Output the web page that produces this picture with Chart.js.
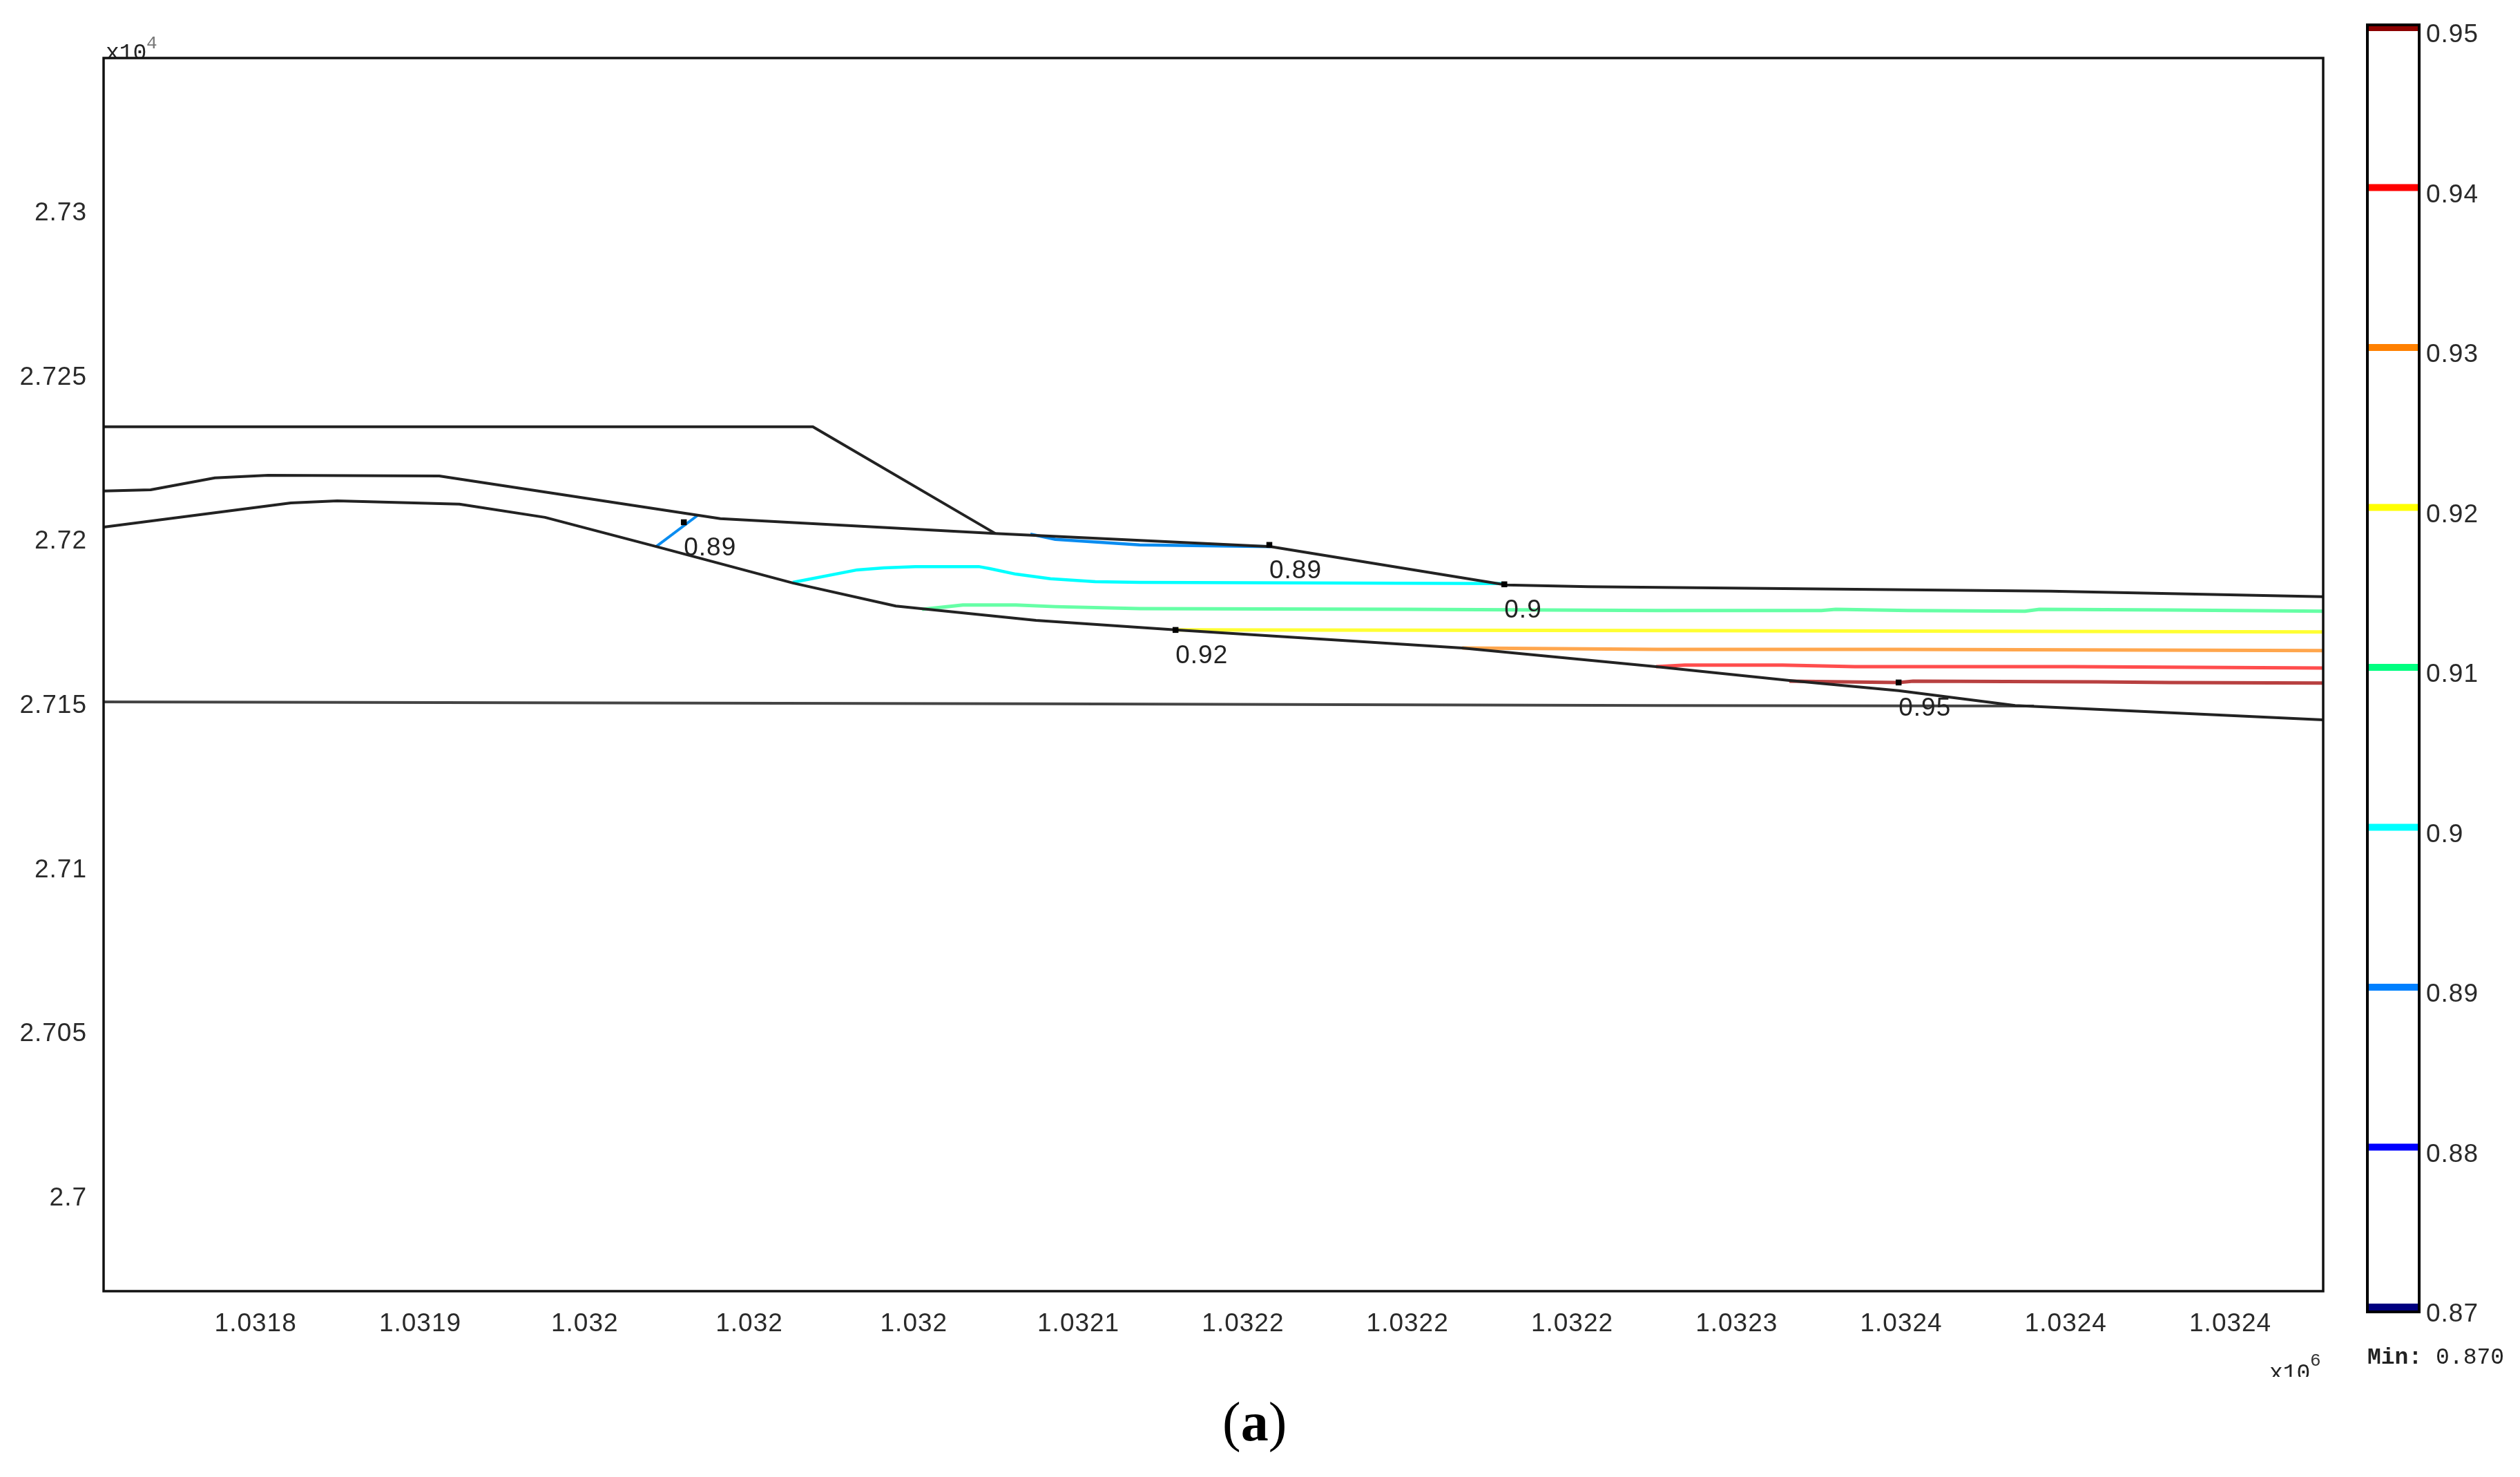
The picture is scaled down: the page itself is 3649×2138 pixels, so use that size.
<!DOCTYPE html>
<html><head><meta charset="utf-8">
<style>
html,body{margin:0;padding:0;background:#fff;width:3649px;height:2138px;overflow:hidden}
canvas{position:absolute;top:0}
.t{position:absolute;white-space:pre;color:#222;font-family:"Liberation Mono",monospace;line-height:1}
.clip{position:absolute;overflow:hidden}
</style>
<script src="https://cdn.jsdelivr.net/npm/chart.js@4/dist/chart.umd.min.js"></script>
</head><body>
<canvas id="main" width="3400" height="2138" style="left:0"></canvas>
<canvas id="bar" width="249" height="2138" style="left:3400px"></canvas>
<div class="clip" style="left:152px;top:40px;width:100px;height:43px"><div class="t" style="left:1px;top:21px;font-size:33px">x10</div><div class="t" style="left:60px;top:10px;font-size:26px;color:#777">4</div></div>
<div class="clip" style="left:3280px;top:1950px;width:90px;height:43px"><div class="t" style="left:6px;top:22px;font-size:33px">x10</div><div class="t" style="left:65px;top:7px;font-size:26px;color:#333">6</div></div>
<div class="t" style="left:3428px;top:1949px;font-size:33px"><b style="font-weight:600">Min:</b> 0.870</div>
<div class="t" style="left:1770px;top:2018px;font-size:80px;color:#000;font-family:'Liberation Serif',serif">(<b>a</b>)</div>
<script>
const xTickValues=[1031850,1031900,1031950,1032000,1032050,1032100,1032150,1032200,1032250,1032300,1032350,1032400,1032450];
const xTickLabels=["1.0318","1.0319","1.032","1.032","1.032","1.0321","1.0322","1.0322","1.0322","1.0323","1.0324","1.0324","1.0324"];
const yTickValues=[27000,27050,27100,27150,27200,27250,27300];
const yTickLabels=["2.7","2.705","2.71","2.715","2.72","2.725","2.73"];

const embankX=[1031803.8,1032019.3,1032074.7];
const embankY=[27234.6,27234.6,27202.1];
const surfaceX=[1031803.8,1031818.1,1031837.6,1031853.8,1031905.8,1031991.2,1032074.7,1032158.4,1032230.0,1032255.0,1032395.5,1032478.2];
const surfaceY=[27215.0,27215.4,27219.0,27219.8,27219.6,27206.6,27202.1,27198.1,27186.4,27185.9,27184.5,27182.8];
const lowerX=[1031803.8,1031860.7,1031874.8,1031911.9,1031937.9,1031971.7,1032013.2,1032044.5,1032087.1,1032129.5,1032216.6,1032275.5,1032316.0,1032349.2,1032384.6,1032478.2];
const lowerY=[27204.0,27211.4,27212.0,27211.0,27207.0,27198.1,27187.0,27180.0,27175.6,27172.7,27167.2,27161.5,27157.3,27154.2,27149.7,27145.3];
const bedX=[1031803.8,1032087.1,1032275.9,1032390.3];
const bedY=[27150.8,27150.2,27149.7,27149.5];

const c089aX=[1031971.7,1031984.3];
const c089aY=[27198.1,27207.6];
const c089bX=[1032085.4,1032093.0,1032118.6,1032158.4];
const c089bY=[27201.9,27200.3,27198.6,27198.1];
const c090X=[1032013.2,1032032.8,1032040.9,1032050.4,1032069.7,1032073.0,1032081.0,1032091.5,1032105.1,1032118.6,1032229.4];
const c090Y=[27187.2,27191.0,27191.6,27192.0,27192.0,27191.4,27189.7,27188.3,27187.4,27187.2,27186.8];
const c091X=[1032052.5,1032064.9,1032081.0,1032093.0,1032118.6,1032200.0,1032275.9,1032325.7,1032330.1,1032352.1,1032387.6,1032392.0,1032431.6,1032478.2];
const c091Y=[27179.0,27180.3,27180.3,27179.8,27179.2,27179.0,27178.6,27178.6,27179.0,27178.6,27178.4,27179.0,27178.8,27178.4];
const c092X=[1032129.5,1032275.9,1032478.2];
const c092Y=[27172.7,27172.5,27172.1];
const c093X=[1032216.6,1032275.9,1032349.4,1032478.2];
const c093Y=[27167.2,27166.8,27166.8,27166.4];
const c094X=[1032275.5,1032284.3,1032313.9,1032335.9,1032402.2,1032478.2];
const c094Y=[27161.5,27162.0,27162.0,27161.5,27161.5,27161.1];
const c095X=[1032316.0,1032349.2,1032353.6,1032409.6,1032431.6,1032478.2];
const c095Y=[27157.1,27156.7,27157.1,27156.9,27156.7,27156.5];

const markerX=[1031980.1,1032158.0,1032229.4,1032129.5,1032349.2];
const markerY=[27205.5,27198.6,27186.6,27172.7,27156.7];
const markerLabels=["0.89","0.89","0.9","0.92","0.95"];

const barLevels=[0.95,0.94,0.93,0.92,0.91,0.9,0.89,0.88,0.87];
const barLabels=["0.95","0.94","0.93","0.92","0.91","0.9","0.89","0.88","0.87"];
const barColors=["#8b0000","#ff0000","#ff8000","#ffff00","#00ff80","#00ffff","#0080ff","#0000ff","#000080"];

const zip=(a,b)=>a.map((v,i)=>({x:v,y:b[i]}));
const tickFont={family:"'Liberation Sans',sans-serif",size:37};
const line=(a,b,color,w,order)=>({data:zip(a,b),borderColor:color,borderWidth:w,showLine:true,pointRadius:0,tension:0,fill:false,order,borderJoinStyle:'round'});

const datasets=[
 {data:zip(markerX,markerY),pointStyle:'rect',pointRadius:6,pointBackgroundColor:'#000',pointBorderColor:'#000',pointBorderWidth:0,showLine:false,order:0},
 line(embankX,embankY,'#222',4,1),
 line(surfaceX,surfaceY,'#222',4,1),
 line(lowerX,lowerY,'#222',4,1),
 line(bedX,bedY,'#444',4,1),
 line(c089aX,c089aY,'#0a8cf0',4,2),
 line(c089bX,c089bY,'#0a8cf0',4.5,2),
 line(c090X,c090Y,'#00ffff',4.5,2),
 line(c091X,c091Y,'#66ffa6',5,2),
 line(c092X,c092Y,'#ffff33',5,2),
 line(c093X,c093Y,'#ffa64d',5,2),
 line(c094X,c094Y,'#ff4d4d',5,2),
 line(c095X,c095Y,'#b84040',5,2)
];

const spacing={id:'spacing',beforeDraw(c){c.ctx.letterSpacing='1px';}};
const framePlugin={id:'frame',afterDraw(c){
  const g=c.ctx,a=c.chartArea;
  g.save();g.strokeStyle='#111';g.lineWidth=3.5;
  g.strokeRect(a.left,a.top,a.right-a.left,a.bottom-a.top);
  g.restore();
}};
const labelPlugin={id:'inlineLabels',afterDatasetsDraw(c){
  const g=c.ctx;
  g.save();g.fillStyle='#222';g.font="37px 'Liberation Sans',sans-serif";g.textAlign='left';g.textBaseline='middle';
  markerLabels.forEach((t,i)=>{
    g.fillText(t,c.scales.x.getPixelForValue(markerX[i]),c.scales.y.getPixelForValue(markerY[i])+38);
  });
  g.restore();
}};

new Chart(document.getElementById('main'),{
  type:'scatter',
  data:{datasets},
  plugins:[spacing,framePlugin,labelPlugin],
  options:{
    responsive:false,animation:false,devicePixelRatio:1,
    layout:{padding:{left:0,right:36,top:84,bottom:0}},
    plugins:{legend:{display:false},tooltip:{enabled:false},title:{display:false}},
    scales:{
      x:{type:'linear',min:1031803.8,max:1032478.2,
        grid:{display:false,drawTicks:false},border:{display:false},
        afterBuildTicks(s){s.ticks=xTickValues.map(v=>({value:v}));},
        afterFit(s){s.height=269;},
        ticks:{autoSkip:false,maxRotation:0,minRotation:0,padding:26,color:'#2a2a2a',font:tickFont,
          callback(v){return xTickLabels[xTickValues.indexOf(v)];}}
      },
      y:{type:'linear',min:26971.3,max:27346.9,
        grid:{display:false,drawTicks:false},border:{display:false},
        afterBuildTicks(s){s.ticks=yTickValues.map(v=>({value:v}));},
        afterFit(s){s.width=150;},
        ticks:{autoSkip:false,padding:24,labelOffset:2,color:'#2a2a2a',font:tickFont,
          callback(v){return yTickLabels[yTickValues.indexOf(v)];}}
      }
    }
  }
});

const barFrame={id:'barFrame',afterDraw(c){
  const g=c.ctx,a=c.chartArea;
  g.save();g.strokeStyle='#000';g.lineWidth=4;
  g.strokeRect(a.left,a.top,a.right-a.left,a.bottom-a.top);
  g.restore();
}};
new Chart(document.getElementById('bar'),{
  type:'scatter',
  data:{datasets:barLevels.map((l,i)=>({data:[{x:0,y:l},{x:1,y:l}],borderColor:barColors[i],borderWidth:10,showLine:true,pointRadius:0,clip:false}))},
  plugins:[spacing,barFrame],
  options:{
    responsive:false,animation:false,devicePixelRatio:1,
    layout:{padding:{left:28,right:0,top:36,bottom:239}},
    plugins:{legend:{display:false},tooltip:{enabled:false}},
    scales:{
      x:{type:'linear',min:0,max:1,display:false},
      y:{type:'linear',position:'right',min:0.8697,max:0.95017,
        grid:{display:false,drawTicks:false},border:{display:false},
        afterBuildTicks(s){s.ticks=barLevels.map(v=>({value:v}));},
        afterFit(s){s.width=146;},
        ticks:{autoSkip:false,padding:10,labelOffset:11,color:'#2a2a2a',font:tickFont,
          callback(v){return barLabels[barLevels.indexOf(v)];}}
      }
    }
  }
});
</script>
</body></html>
